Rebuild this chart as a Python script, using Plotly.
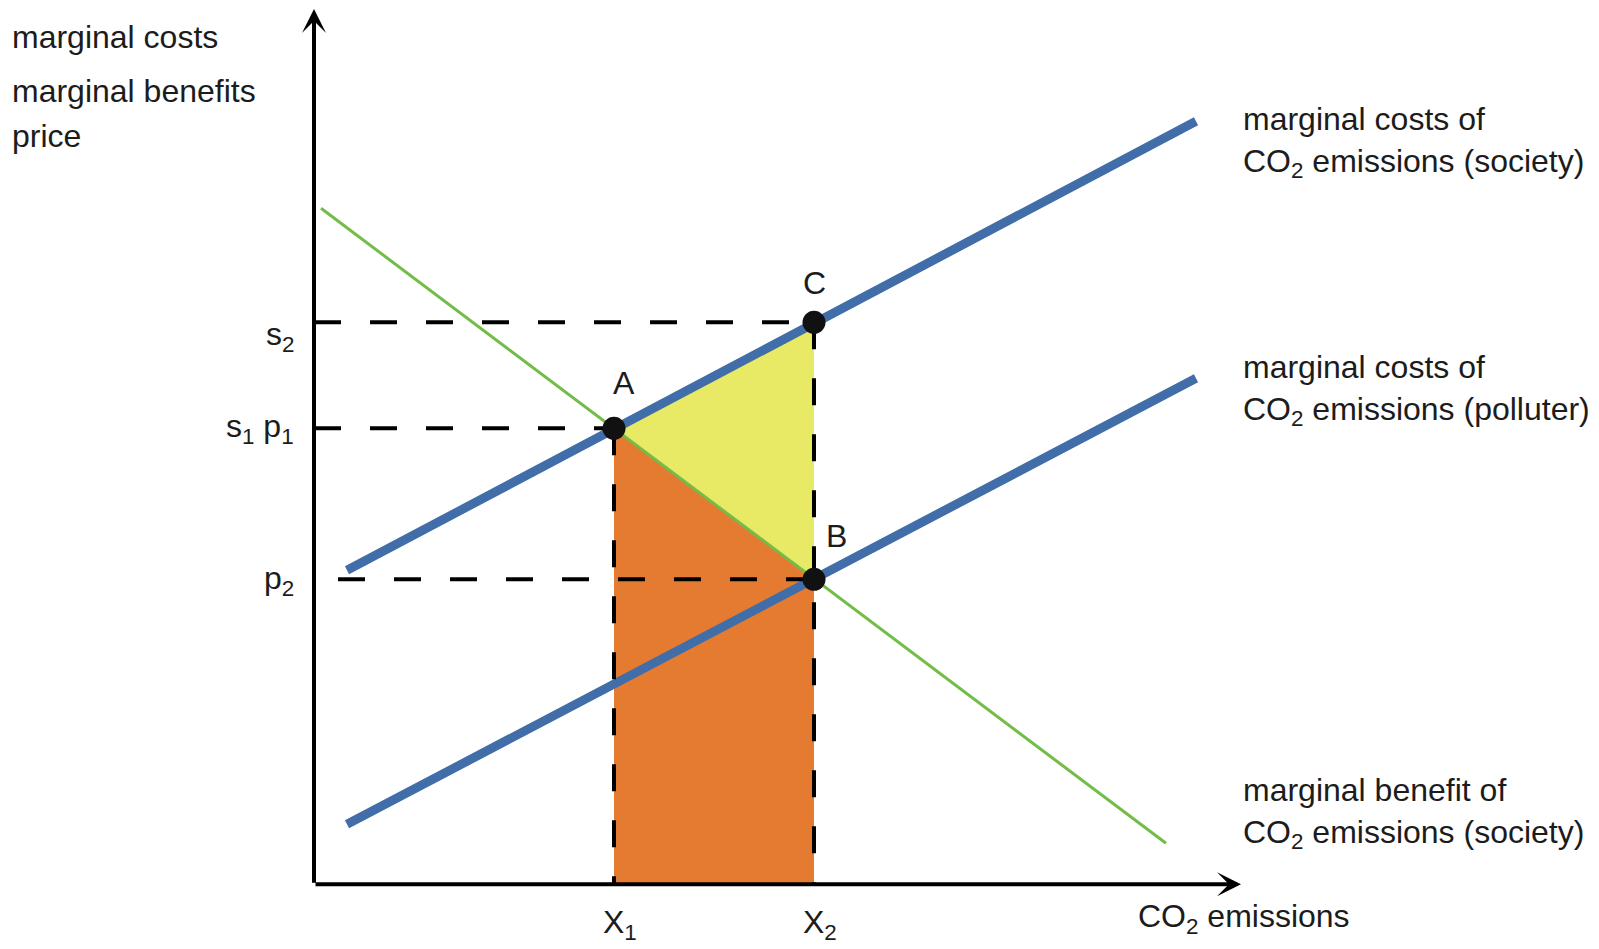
import plotly.graph_objects as go

# ---------------- data ----------------
X1, X2 = 3.0, 5.0          # emission levels
p1 = 4.56                  # s1 = p1
p2 = 3.05
s2 = 5.62

mc_society_x = [0.33, 8.82]
mc_society_y = [3.14, 7.63]
mc_polluter_x = [0.33, 8.82]
mc_polluter_y = [0.60, 5.06]
mb_society_x = [0.07, 8.52]
mb_society_y = [6.76, 0.41]

point_names = ["A", "B", "C"]
point_x = [X1, X2, X2]
point_y = [p1, p2, s2]

y_tick_labels = ["s<sub>2</sub>", "s<sub>1</sub> p<sub>1</sub>", "p<sub>2</sub>"]
y_tick_values = [s2, p1, p2]
x_tick_labels = ["X<sub>1</sub>", "X<sub>2</sub>"]
x_tick_values = [X1, X2]

# ---------------- styling ----------------
BLUE = "#416DA9"
GREEN = "#72BD48"
ORANGE = "#E57B31"
YELLOW = "#E8E964"
INK = "#1c1c1c"
FONT = "Liberation Sans, Arial, sans-serif"
FS = 32

# window pixel -> data (plot area fills the figure; body margin 8px)
W, H = 1583, 933
OX, OY, S = 314.0, 884.3, 100.0
def dx(px):
    return (px - OX) / S
def dy(py):
    return (OY - py) / S

fig = go.Figure()

# filled areas
fig.add_trace(go.Scatter(x=[X1, X1, X2, X2, X1], y=[0, p1, p2, 0, 0], fill="toself",
                         fillcolor=ORANGE, line=dict(width=0), mode="lines", hoverinfo="skip"))
fig.add_trace(go.Scatter(x=[X1, X2, X2, X1], y=[p1, s2, p2, p1], fill="toself",
                         fillcolor=YELLOW, line=dict(width=0), mode="lines", hoverinfo="skip"))

# marginal benefit line (green)
fig.add_trace(go.Scatter(x=mb_society_x, y=mb_society_y, mode="lines",
                         line=dict(color=GREEN, width=3)))
# marginal cost lines (blue)
fig.add_trace(go.Scatter(x=mc_society_x, y=mc_society_y, mode="lines",
                         line=dict(color=BLUE, width=9)))
fig.add_trace(go.Scatter(x=mc_polluter_x, y=mc_polluter_y, mode="lines",
                         line=dict(color=BLUE, width=9)))

# dashed guide lines
DASH = "27px,29px"
guides = [
    ([0, X2], [s2, s2]),
    ([0, X1], [p1, p1]),
    ([0.24, X2], [p2, p2]),
    ([X1, X1], [p1, 0]),
    ([X2, X2], [s2, 0]),
]
for gx, gy in guides:
    fig.add_trace(go.Scatter(x=gx, y=gy, mode="lines",
                             line=dict(color="black", width=4, dash=DASH)))

# points
fig.add_trace(go.Scatter(x=point_x, y=point_y, mode="markers",
                         marker=dict(color="#111111", size=23)))

annotations = []
# axes with arrows
annotations.append(dict(x=0, y=dy(9), ax=0, ay=0, xref="x", yref="y", axref="x", ayref="y",
                        showarrow=True, arrowhead=3, arrowwidth=4, arrowsize=1,
                        arrowcolor="black", text="", standoff=0))
annotations.append(dict(x=dx(1241), y=0, ax=0, ay=0, xref="x", yref="y", axref="x", ayref="y",
                        showarrow=True, arrowhead=3, arrowwidth=4, arrowsize=1,
                        arrowcolor="black", text="", standoff=0))

font = dict(family=FONT, size=FS, color=INK)

# point letters
letter_shift = {"A": (10, 45), "B": (22, 43), "C": (0, 39)}
for n, px_, py_ in zip(point_names, point_x, point_y):
    xs, ys = letter_shift[n]
    annotations.append(dict(x=px_, y=py_, text=n, showarrow=False, xanchor="center",
                            yanchor="middle", xshift=xs, yshift=ys, font=font))

# y tick labels
y_shift = [-14, 0, -1]
for t, v, ys in zip(y_tick_labels, y_tick_values, y_shift):
    annotations.append(dict(x=0, y=v, text=t, showarrow=False, xanchor="right",
                            yanchor="middle", xshift=-18, yshift=ys, font=font))
# x tick labels
for t, v in zip(x_tick_labels, x_tick_values):
    annotations.append(dict(x=v, y=0, text=t, showarrow=False, xanchor="left",
                            yanchor="top", xshift=-13, yshift=-18, font=font))

# axis titles
for i, (t, py_) in enumerate([("marginal costs", 37), ("marginal benefits", 90.5), ("price", 136)]):
    annotations.append(dict(x=dx(10), y=dy(py_), text=t, showarrow=False, xanchor="left",
                            yanchor="middle", font=font))
annotations.append(dict(x=dx(1135.5), y=dy(918), text="CO<sub>2</sub> emissions", showarrow=False,
                        xanchor="left", yanchor="middle", font=font))

# curve labels
curve_labels = [
    ("marginal costs of<br>CO<sub>2</sub> emissions (society)", 142),
    ("marginal costs of<br>CO<sub>2</sub> emissions (polluter)", 389.5),
    ("marginal benefit of<br>CO<sub>2</sub> emissions (society)", 813),
]
for t, py_ in curve_labels:
    annotations.append(dict(x=dx(1240.5), y=dy(py_), text=t, showarrow=False, xanchor="left",
                            yanchor="middle", align="left", font=font))

fig.update_layout(
    width=W, height=H,
    margin=dict(l=0, r=0, t=0, b=0),
    paper_bgcolor="white", plot_bgcolor="white",
    showlegend=False,
    xaxis=dict(range=[dx(8), dx(8 + W)], visible=False, fixedrange=True),
    yaxis=dict(range=[dy(8 + H), dy(8)], visible=False, fixedrange=True),
    annotations=annotations,
    font=font,
)

fig.write_html("out.html")
